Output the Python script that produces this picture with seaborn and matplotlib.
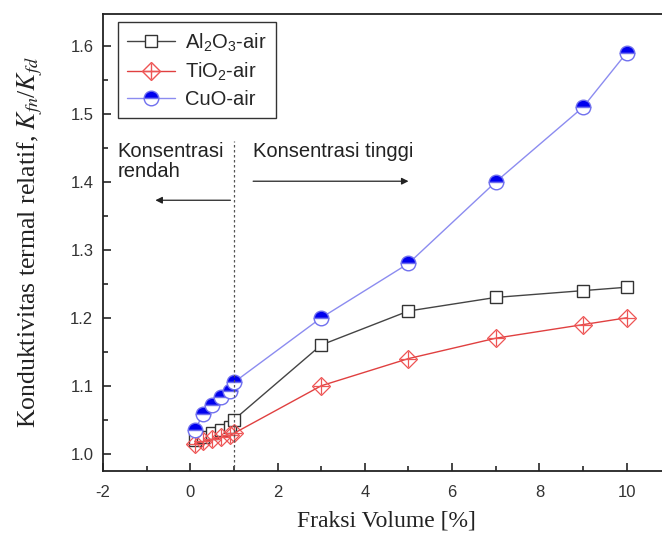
import numpy as np
import pandas as pd
import seaborn as sns
import matplotlib.pyplot as plt
from matplotlib.ticker import MultipleLocator
from matplotlib.legend_handler import HandlerTuple
from matplotlib.lines import Line2D

# data
fraksi = [0.1, 0.3, 0.5, 0.7, 0.9, 1.0, 3, 5, 7, 9, 10]
al2o3 = [1.020, 1.025, 1.030, 1.035, 1.040, 1.050, 1.160, 1.210, 1.230, 1.240, 1.245]
tio2 = [1.015, 1.018, 1.021, 1.024, 1.027, 1.030, 1.100, 1.140, 1.170, 1.190, 1.200]
cuo = [1.035, 1.058, 1.072, 1.083, 1.093, 1.105, 1.200, 1.280, 1.400, 1.510, 1.590]

df = pd.DataFrame({"x": fraksi, "al": al2o3, "ti": tio2, "cu": cuo})

sns.set_style("ticks")
plt.rcParams["font.family"] = ["Liberation Sans", "DejaVu Sans"]
plt.rcParams["mathtext.fontset"] = "stix"
plt.rcParams["mathtext.default"] = "regular"
plt.rcParams["axes.unicode_minus"] = False

fig = plt.figure(figsize=(6.62, 5.36), dpi=100)
ax = fig.add_axes([0.1556, 0.1218, 0.857, 0.852])

sns.lineplot(data=df, x="x", y="al", ax=ax, color="#444444", lw=1.0,
             marker="s", markersize=9, markerfacecolor="white",
             markeredgecolor="#333333", markeredgewidth=1.0, estimator=None)
sns.lineplot(data=df, x="x", y="ti", ax=ax, color="#e04040", lw=1.0,
             marker="D", markersize=9, markerfacecolor="none",
             markeredgecolor="#ee5555", markeredgewidth=0.9, estimator=None)
ax.plot(df["x"], df["ti"], ls="none", marker="+", markersize=11,
        markeredgecolor="#ee5555", markeredgewidth=0.9)
sns.lineplot(data=df, x="x", y="cu", ax=ax, color="#8c8cf0", lw=1.0,
             marker="o", markersize=10.5, fillstyle="top", markerfacecolor="#0000ee",
             markerfacecoloralt="white", markeredgecolor="#7070ee",
             markeredgewidth=1.0, estimator=None)

# batas konsentrasi rendah / tinggi
ax.plot([1.0, 1.0], [0.9, 1.46], ls=(0, (2, 2)), color="#555555", lw=0.9)

ax.text(-1.67, 1.459, "Konsentrasi\nrendah", fontsize=14.5, color="#222222",
        va="top", ha="left", linespacing=1.1)
ax.text(1.44, 1.459, "Konsentrasi tinggi", fontsize=14.5, color="#222222",
        va="top", ha="left")
ax.annotate("", xy=(-0.8, 1.373), xytext=(0.92, 1.373),
            arrowprops=dict(arrowstyle="-|>", color="#222222", lw=0.9,
                            mutation_scale=10, shrinkA=0, shrinkB=0))
ax.annotate("", xy=(5.0, 1.401), xytext=(1.44, 1.401),
            arrowprops=dict(arrowstyle="-|>", color="#222222", lw=0.9,
                            mutation_scale=10, shrinkA=0, shrinkB=0))

ax.set_xlim(-2, 11)
ax.set_ylim(0.975, 1.647)
ax.xaxis.set_major_locator(MultipleLocator(2))
ax.xaxis.set_minor_locator(MultipleLocator(1))
ax.yaxis.set_major_locator(MultipleLocator(0.1))
ax.yaxis.set_minor_locator(MultipleLocator(0.05))
ax.yaxis.set_major_formatter(plt.FormatStrFormatter("%.1f"))
ax.tick_params(which="both", direction="in", top=False, right=False, width=1.2,
               labelsize=12, labelcolor="#333333")
ax.tick_params(axis="x", which="major", pad=10)
ax.tick_params(axis="y", which="major", pad=7)
ax.tick_params(which="major", length=6)
ax.tick_params(which="minor", length=3.5)
for sp in ax.spines.values():
    sp.set_linewidth(1.3)
    sp.set_color("#222222")
ax.spines["right"].set_visible(False)

ax.set_xlabel("Fraksi Volume [%]", fontsize=17, family="Liberation Serif",
              color="#222222", labelpad=8)
ax.set_ylabel(r"Konduktivitas termal relatif, $\mathit{K}_{\mathit{fn}}/\mathit{K}_{\mathit{fd}}$",
              fontsize=18.5, family="Liberation Serif", color="#222222", labelpad=18)

h_al = Line2D([], [], color="#444444", lw=1.0, marker="s", markersize=9,
              markerfacecolor="white", markeredgecolor="#333333")
h_ti1 = Line2D([], [], color="#e04040", lw=1.0, marker="D", markersize=9,
               markerfacecolor="none", markeredgecolor="#ee5555")
h_ti2 = Line2D([], [], ls="none", marker="+", markersize=11, markeredgecolor="#ee5555")
h_cu = Line2D([], [], color="#8c8cf0", lw=1.0, marker="o", markersize=10.5,
              fillstyle="top", markerfacecolor="#0000ee", markerfacecoloralt="white",
              markeredgecolor="#7070ee")
leg = ax.legend([h_al, (h_ti1, h_ti2), h_cu],
                ["Al$_2$O$_3$-air", "TiO$_2$-air", "CuO-air"],
                handler_map={tuple: HandlerTuple(ndivide=1, pad=0)},
                loc="upper left", bbox_to_anchor=(0.026, 0.982), borderaxespad=0,
                fontsize=14.5, frameon=True, fancybox=False, edgecolor="#333333",
                handlelength=2.4, borderpad=0.45, labelspacing=0.35,
                handletextpad=0.5)
leg.get_frame().set_linewidth(1.0)
leg.get_frame().set_alpha(1)

fig.savefig("out.png", dpi=100)
